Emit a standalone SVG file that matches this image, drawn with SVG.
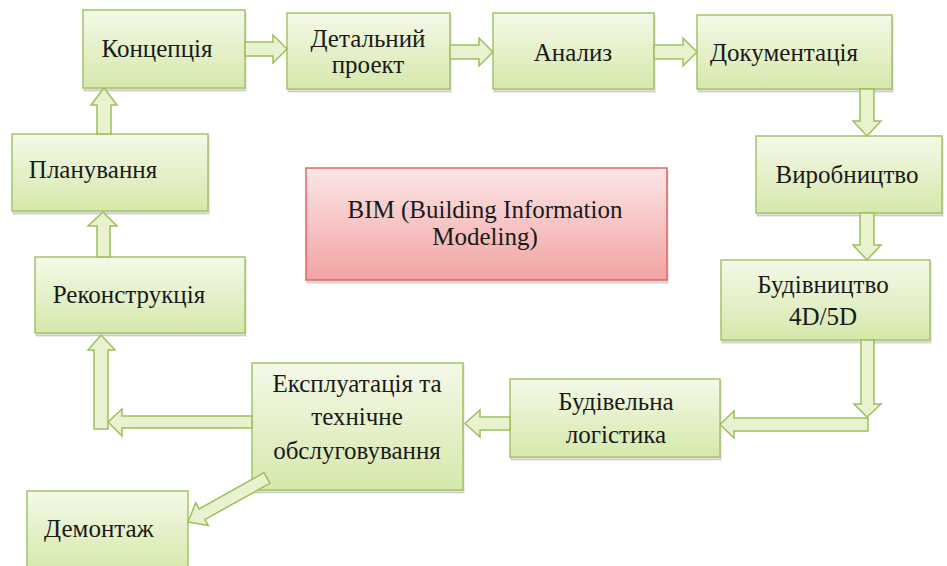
<svg xmlns="http://www.w3.org/2000/svg" width="947" height="566" viewBox="0 0 947 566">
<defs>
<linearGradient id="gg" x1="0" y1="0" x2="0" y2="1">
<stop offset="0" stop-color="#f4f9e8"/>
<stop offset="1" stop-color="#d6e8ab"/>
</linearGradient>
<linearGradient id="rg" x1="0" y1="0" x2="0" y2="1">
<stop offset="0" stop-color="#fbe6e6"/>
<stop offset="1" stop-color="#f2a3a3"/>
</linearGradient>
</defs>
<style>
.box{fill:url(#gg);stroke:#a3c467;stroke-width:1.5}
.bim{fill:url(#rg);stroke:#e06666;stroke-width:1.5}
.shd{fill:#000;fill-opacity:0.13;stroke:#000;stroke-opacity:0.07;stroke-width:2}
.arr{fill:#e8f2cf;stroke:#9cc05c;stroke-width:1.5;stroke-linejoin:miter}
</style>
<rect width="947" height="566" fill="#ffffff"/>
<g id="n-koncepcia"><rect class="shd" x="84" y="13" width="162" height="78"/><rect class="box" x="83" y="10" width="162" height="78"/><text font-family="Liberation Serif" font-size="25" text-anchor="middle" fill="#1a1a1a" x="157" y="57">Концепція</text></g>
<g id="n-detalnyi"><rect class="shd" x="288" y="16" width="163" height="76"/><rect class="box" x="287" y="13" width="163" height="76"/><text font-family="Liberation Serif" font-size="25" text-anchor="middle" fill="#1a1a1a" x="368" y="47">Детальний</text><text font-family="Liberation Serif" font-size="25" text-anchor="middle" fill="#1a1a1a" x="368" y="73">проект</text></g>
<g id="n-analiz"><rect class="shd" x="494" y="16" width="161" height="76"/><rect class="box" x="493" y="13" width="161" height="76"/><text font-family="Liberation Serif" font-size="25" text-anchor="middle" fill="#1a1a1a" x="573" y="61">Анализ</text></g>
<g id="n-dokumentacia"><rect class="shd" x="698" y="18" width="195" height="74"/><rect class="box" x="697" y="15" width="195" height="74"/><text font-family="Liberation Serif" font-size="25" text-anchor="middle" fill="#1a1a1a" x="784" y="61">Документація</text></g>
<g id="n-vyrobnytstvo"><rect class="shd" x="757" y="139" width="186" height="77"/><rect class="box" x="756" y="136" width="186" height="77"/><text font-family="Liberation Serif" font-size="25" text-anchor="middle" fill="#1a1a1a" x="847" y="183">Виробництво</text></g>
<g id="n-budivnytstvo"><rect class="shd" x="722" y="263" width="209" height="80"/><rect class="box" x="721" y="260" width="209" height="80"/><text font-family="Liberation Serif" font-size="25" text-anchor="middle" fill="#1a1a1a" x="823" y="293">Будівництво</text><text font-family="Liberation Serif" font-size="25" text-anchor="middle" fill="#1a1a1a" x="823" y="325">4D/5D</text></g>
<g id="n-logistyka"><rect class="shd" x="511" y="382" width="210" height="78"/><rect class="box" x="510" y="379" width="210" height="78"/><text font-family="Liberation Serif" font-size="25" text-anchor="middle" fill="#1a1a1a" x="616" y="410">Будівельна</text><text font-family="Liberation Serif" font-size="25" text-anchor="middle" fill="#1a1a1a" x="616" y="443">логістика</text></g>
<g id="n-ekspluatacia"><rect class="shd" x="253" y="366" width="211" height="127"/><rect class="box" x="252" y="363" width="211" height="127"/><text font-family="Liberation Serif" font-size="25" text-anchor="middle" fill="#1a1a1a" x="357" y="392">Експлуатація та</text><text font-family="Liberation Serif" font-size="25" text-anchor="middle" fill="#1a1a1a" x="357" y="425">технічне</text><text font-family="Liberation Serif" font-size="25" text-anchor="middle" fill="#1a1a1a" x="357" y="459">обслуговування</text></g>
<g id="n-demontazh"><rect class="box" x="27" y="491" width="161" height="80"/><text font-family="Liberation Serif" font-size="25" text-anchor="middle" fill="#1a1a1a" x="99" y="537">Демонтаж</text></g>
<g id="n-rekonstrukcia"><rect class="shd" x="36" y="260" width="210" height="76"/><rect class="box" x="35" y="257" width="210" height="76"/><text font-family="Liberation Serif" font-size="25" text-anchor="middle" fill="#1a1a1a" x="129" y="303">Реконструкція</text></g>
<g id="n-planuvannia"><rect class="shd" x="13" y="137" width="196" height="77"/><rect class="box" x="12" y="134" width="196" height="77"/><text font-family="Liberation Serif" font-size="25" text-anchor="middle" fill="#1a1a1a" x="93" y="178">Планування</text></g>
<g id="n-bim"><rect class="shd" x="307" y="171" width="361" height="112"/><rect class="bim" x="306" y="168" width="361" height="112"/><text font-family="Liberation Serif" font-size="25" text-anchor="middle" fill="#1a1a1a" x="485" y="218">BIM (Building Information</text><text font-family="Liberation Serif" font-size="25" text-anchor="middle" fill="#1a1a1a" x="485" y="245">Modeling)</text></g>
<g id="connectors">
<path class="arr" d="M245,42 H273 V35 L287,49 L273,63 V56 H245 Z"/>
<path class="arr" d="M450,45 H479 V38 L493,52 L479,66 V59 H450 Z"/>
<path class="arr" d="M654,45 H683 V38 L697,52 L683,66 V59 H654 Z"/>
<path class="arr" d="M860,89 V121 H853 L867,136 L881,121 H874 V89 Z"/>
<path class="arr" d="M860,213 V245 H853 L867,260 L881,245 H874 V213 Z"/>
<path class="arr" d="M861,340 V404 H854 L867,417 L881,404 H874 V340 Z"/>
<path class="arr" d="M868,418 H734 V411 L720,424.5 L734,438 V431 H868 Z"/>
<path class="arr" d="M510,417 H480 V410 L465,423.5 L480,437 V430 H510 Z"/>
<path class="arr" d="M94,429 V350 H88 L101,335 L115,350 H108 V429 Z"/>
<path class="arr" d="M252,416 H122 V409 L108,422 L122,436 V428 H252 Z"/>
<path class="arr" d="M97,257 V226 H88 L103,212 L117,226 H110 V257 Z"/>
<path class="arr" d="M97,134 V105 H91 L104,88 L117,105 H111 V134 Z"/>
<path class="arr" d="M264.1,472.7 L199.1,508.9 L195.7,502.8 L188,522 L208.3,525.6 L204.9,519.5 L269.9,483.3 Z"/>
</g>
</svg>
